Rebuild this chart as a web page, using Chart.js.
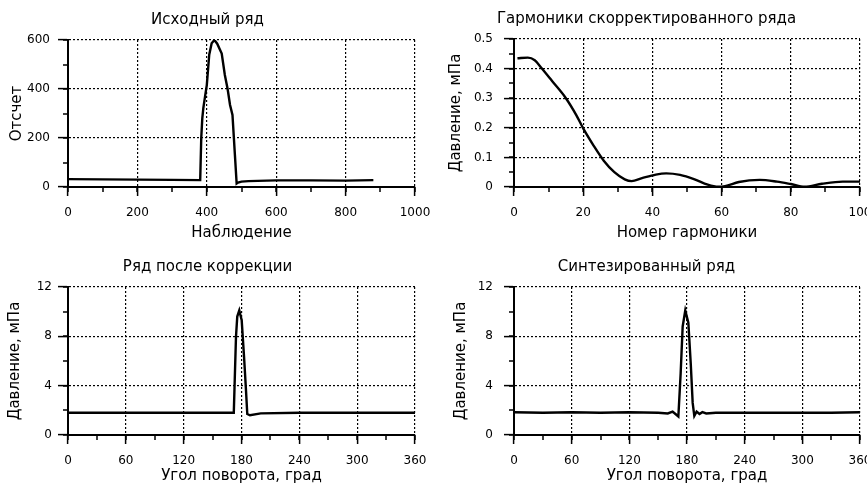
<!DOCTYPE html>
<html>
<head>
<meta charset="utf-8">
<script src="https://cdn.jsdelivr.net/npm/chart.js@4.4.1/dist/chart.umd.min.js"></script>
<style>
  html, body { margin: 0; padding: 0; background: #fff; overflow: hidden; }
  canvas { position: absolute; }
</style>
</head>
<body>
<canvas id="c1" width="445" height="243" style="left:0;top:0"></canvas>
<canvas id="c2" width="450" height="243" style="left:433px;top:0"></canvas>
<canvas id="c3" width="445" height="243" style="left:0;top:243px"></canvas>
<canvas id="c4" width="450" height="243" style="left:433px;top:243px"></canvas>
<script>
// исходный ряд (наблюдение -> отсчет)
var obsX = [0, 100, 200, 300, 381, 384, 387, 390, 395, 400, 407, 414, 422, 430, 443, 452, 460, 467, 474, 481, 486, 490, 500, 520, 600, 700, 800, 880];
var obsY = [32, 31, 30, 29, 28, 200, 280, 322, 370, 416, 540, 587, 600, 585, 545, 457, 400, 335, 294, 131, 14, 18, 22, 24, 27, 27, 26, 28];

// гармоники (номер -> давление, мПа)
var harmX = [1, 4, 6, 8, 11, 15, 18, 20, 23, 26, 29, 32, 34, 37, 41, 44, 48, 52, 56, 59, 61, 65, 71, 76, 80, 84, 89, 95, 100];
var harmY = [0.435, 0.437, 0.428, 0.401, 0.358, 0.300, 0.243, 0.198, 0.140, 0.088, 0.050, 0.026, 0.020, 0.030, 0.042, 0.046, 0.041, 0.027, 0.008, 0.001, 0.003, 0.017, 0.024, 0.018, 0.010, 0.001, 0.011, 0.018, 0.018];

// ряд после коррекции (угол -> давление)
var corrX = [0, 60, 120, 172, 173, 174.3, 175.6, 177.7, 180.2, 182.6, 184.6, 186, 188.8, 200, 240, 300, 360];
var corrY = [1.8, 1.8, 1.8, 1.8, 4.5, 8.0, 9.6, 10.1, 9.3, 6.4, 3.7, 1.7, 1.6, 1.75, 1.8, 1.8, 1.8];

// синтезированный ряд
var synthX = [0, 30, 60, 90, 120, 150, 160, 165, 168, 171, 173.4, 175.5, 178.2, 181.4, 183.9, 185.9, 187.6, 190, 193, 196, 200, 210, 240, 270, 300, 330, 360];
var synthY = [1.85, 1.8, 1.85, 1.8, 1.85, 1.8, 1.75, 1.9, 1.7, 1.5, 5.0, 8.8, 10.1, 9.1, 5.8, 2.6, 1.55, 1.9, 1.7, 1.85, 1.75, 1.8, 1.8, 1.8, 1.8, 1.8, 1.85];

var FONT = "'DejaVu Sans', sans-serif";

// short ticks between the labelled ones
var minorTicks = {
    id: 'minorTicks',
    afterDraw: function (chart, args, opts) {
        var ctx = chart.ctx, area = chart.chartArea, sx = chart.scales.x, sy = chart.scales.y;
        ctx.save();
        ctx.strokeStyle = '#000';
        ctx.lineWidth = 1.5;
        ctx.beginPath();
        var n = Math.round((sx.max - sx.min) / opts.x);
        for (var i = 0; i <= n; i++) {
            var px = Math.round(sx.getPixelForValue(sx.min + i * opts.x));
            ctx.moveTo(px, area.bottom);
            ctx.lineTo(px, area.bottom + 5);
        }
        n = Math.round((sy.max - sy.min) / opts.y);
        for (var j = 0; j <= n; j++) {
            var py = Math.round(sy.getPixelForValue(sy.min + j * opts.y));
            ctx.moveTo(area.left, py);
            ctx.lineTo(area.left - 5, py);
        }
        ctx.stroke();
        ctx.restore();
    }
};

function plainNum(v) {
    return String(Math.round(v * 1000) / 1000);
}

function makeChart(id, xs, ys, s) {
    var pts = xs.map(function (x, i) { return {x: x, y: ys[i]}; });
    return new Chart(document.getElementById(id), {
        type: 'line',
        data: {
            datasets: [{
                data: pts,
                borderColor: '#000',
                borderWidth: 2.4,
                pointRadius: 0,
                tension: s.tension || 0,
                cubicInterpolationMode: s.tension ? 'monotone' : 'default'
            }]
        },
        plugins: [minorTicks],
        options: {
            responsive: false,
            animation: false,
            layout: {padding: {left: 0, right: s.padRight, top: 0, bottom: 0}},
            plugins: {
                legend: {display: false},
                tooltip: {enabled: false},
                title: {
                    display: true,
                    text: s.title,
                    color: '#000',
                    font: {family: FONT, size: 15, weight: 'normal', lineHeight: 1.2},
                    padding: s.titlePad
                },
                minorTicks: {x: s.xMinor, y: s.yMinor}
            },
            scales: {
                x: {
                    type: 'linear',
                    min: s.xMin, max: s.xMax,
                    afterFit: function (sc) { sc.height = s.xHeight; },
                    ticks: {stepSize: s.xStep, color: '#000', padding: 10, maxRotation: 0, autoSkip: false,
                        callback: plainNum, font: {family: FONT, size: 12}},
                    grid: {color: '#000', lineWidth: 1.2, tickLength: 9, tickColor: '#000', tickWidth: 1.5},
                    border: {display: true, color: '#000', width: 2, dash: [2, 2]},
                    title: {display: true, text: s.xTitle, color: '#000', padding: {top: 0, bottom: 1},
                        font: {family: FONT, size: 15, lineHeight: 1.2}}
                },
                y: {
                    min: s.yMin, max: s.yMax,
                    afterFit: function (sc) { sc.width = s.yWidth; },
                    ticks: {stepSize: s.yStep, color: '#000', padding: s.yLabelPad,
                        callback: plainNum, font: {family: FONT, size: 12}},
                    grid: {color: '#000', lineWidth: 1.2, tickLength: 10, tickColor: '#000', tickWidth: 1.5},
                    border: {display: true, color: '#000', width: 2, dash: [2, 2]},
                    title: {display: true, text: s.yTitle, color: '#000', padding: {top: s.yTitlePad, bottom: 0},
                        font: {family: FONT, size: 15, lineHeight: 1.2}}
                }
            }
        }
    });
}

makeChart('c1', obsX, obsY, {
    title: 'Исходный ряд', xTitle: 'Наблюдение', yTitle: 'Отсчет',
    xMin: 0, xMax: 1000, xStep: 200, xMinor: 100,
    yMin: 0, yMax: 600, yStep: 200, yMinor: 100,
    yWidth: 68, xHeight: 56, padRight: 30, titlePad: {top: 11, bottom: 11},
    yTitlePad: 8, yLabelPad: 8
});

makeChart('c2', harmX, harmY, {
    title: 'Гармоники скорректированного ряда', xTitle: 'Номер гармоники', yTitle: 'Давление, мПа',
    xMin: 0, xMax: 100, xStep: 20, xMinor: 10,
    yMin: 0, yMax: 0.5, yStep: 0.1, yMinor: 0.05,
    yWidth: 81, xHeight: 56, padRight: 23, titlePad: {top: 10, bottom: 11},
    yTitlePad: 14, yLabelPad: 11, tension: 0.4
});

makeChart('c3', corrX, corrY, {
    title: 'Ряд после коррекции', xTitle: 'Угол поворота, град', yTitle: 'Давление, мПа',
    xMin: 0, xMax: 360, xStep: 60, xMinor: 30,
    yMin: 0, yMax: 12, yStep: 4, yMinor: 2,
    yWidth: 68, xHeight: 51, padRight: 30, titlePad: {top: 15, bottom: 11},
    yTitlePad: 6, yLabelPad: 6
});

makeChart('c4', synthX, synthY, {
    title: 'Синтезированный ряд', xTitle: 'Угол поворота, град', yTitle: 'Давление, мПа',
    xMin: 0, xMax: 360, xStep: 60, xMinor: 30,
    yMin: 0, yMax: 12, yStep: 4, yMinor: 2,
    yWidth: 81, xHeight: 51, padRight: 23, titlePad: {top: 15, bottom: 11},
    yTitlePad: 19, yLabelPad: 11
});
</script>
</body>
</html>
